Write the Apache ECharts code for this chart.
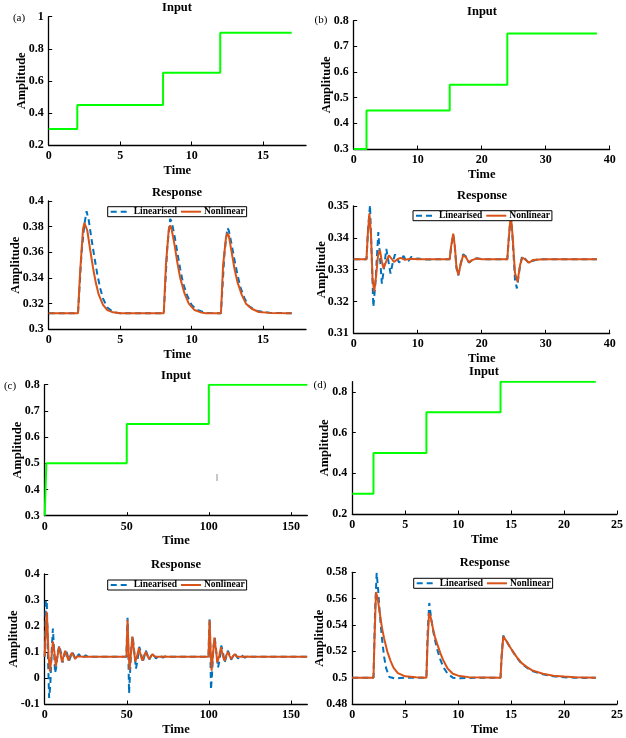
<!DOCTYPE html>
<html><head><meta charset="utf-8">
<script src="https://cdn.jsdelivr.net/npm/echarts@6/dist/echarts.min.js"></script>
<style>html,body{margin:0;padding:0;background:#fff}#c{width:626px;height:738px}</style>
</head><body><div id="c"></div>
<script>
// ---------- DATA ----------
const seriesNames = ['Linearised', 'Nonlinear'];
const panelLetters = ['(a)', '(b)', '(c)', '(d)'];

// step inputs: [time, amplitude] (value holds until next time)
const inputA = [[0,0.3],[2,0.45],[8,0.65],[12,0.9],[17,0.9]];
const inputB = [[0,0.3],[2,0.45],[15,0.55],[24,0.75],[38,0.75]];
const inputC = [[0,0.3],[1,0.5],[50,0.65],[100,0.8],[160,0.8]];
const inputD = [[0,0.3],[2,0.5],[7,0.7],[14,0.85],[23,0.85]];

// responses
const respA_lin = [[0,0.3125],[2.05,0.3125],[2.3,0.36],[2.5,0.382],[2.65,0.392],[2.8,0.385],[3.0,0.37],[3.2,0.356],[3.4,0.343],[3.6,0.332],[3.8,0.324],[4.1,0.317],[4.5,0.3135],[5,0.3125],
  [8.05,0.3125],[8.3,0.365],[8.5,0.386],[8.6,0.384],[8.8,0.373],[9.0,0.36],[9.2,0.347],[9.4,0.336],[9.7,0.326],[10.0,0.319],[10.4,0.315],[11,0.3127],
  [12.05,0.3125],[12.3,0.36],[12.5,0.379],[12.6,0.377],[12.8,0.366],[13.0,0.354],[13.2,0.343],[13.4,0.333],[13.7,0.324],[14.0,0.318],[14.5,0.3145],[15.5,0.3128],[17,0.3125]];
const respA_non = [[0,0.3125],[2.05,0.3125],[2.2,0.345],[2.4,0.378],[2.5,0.383],[2.6,0.382],[2.7,0.377],[2.9,0.362],[3.1,0.348],[3.3,0.336],[3.5,0.327],[3.8,0.319],[4.1,0.315],[4.5,0.3132],[5,0.3125],
  [8.05,0.3125],[8.2,0.35],[8.4,0.378],[8.5,0.381],[8.6,0.378],[8.8,0.366],[9.0,0.352],[9.2,0.34],[9.5,0.328],[9.8,0.32],[10.2,0.315],[10.7,0.313],[11,0.3125],
  [12.05,0.3125],[12.2,0.35],[12.4,0.371],[12.5,0.375],[12.6,0.373],[12.8,0.36],[13.0,0.347],[13.2,0.337],[13.5,0.327],[13.8,0.32],[14.2,0.316],[14.7,0.3135],[15.5,0.3128],[17,0.3125]];

const respB_lin = [[0,0.3333],[2.0,0.3333],[2.25,0.343],[2.55,0.3503],[2.8,0.335],[3.07,0.3183],[3.4,0.326],[3.85,0.3418],[4.1,0.334],[4.4,0.3256],[4.7,0.33],[5.1,0.3365],[5.4,0.333],[5.75,0.3288],[6.1,0.3322],[6.45,0.3348],[6.8,0.3335],[7.1,0.3322],[7.5,0.3335],[7.8,0.3343],[8.2,0.3327],[8.6,0.3328],[9.0,0.334],[9.5,0.3333],[10.0,0.3335],[11,0.3332],
  [15.0,0.3333],[15.2,0.3368],[15.55,0.341],[15.8,0.3372],[16.05,0.3305],[16.35,0.3282],[16.7,0.3318],[17.1,0.3348],[17.5,0.3342],[18.0,0.3322],[18.5,0.333],[19.2,0.3336],[20,0.3333],
  [24.0,0.3333],[24.2,0.339],[24.55,0.3478],[24.85,0.339],[25.2,0.327],[25.5,0.3241],[25.9,0.33],[26.3,0.3342],[26.8,0.3334],[27.4,0.332],[28,0.3328],[29,0.3333],[38,0.3333]];
const respB_non = [[0,0.3333],[2.0,0.3333],[2.2,0.341],[2.45,0.3477],[2.7,0.341],[2.95,0.327],[3.2,0.3231],[3.5,0.328],[3.8,0.3345],[4.1,0.3362],[4.35,0.333],[4.65,0.3304],[5.0,0.3322],[5.5,0.3345],[5.9,0.3335],[6.3,0.3324],[6.8,0.3332],[7.3,0.3337],[8,0.3331],[9,0.3334],[10,0.3333],
  [15.0,0.3333],[15.2,0.337],[15.55,0.3413],[15.8,0.3375],[16.05,0.331],[16.35,0.3283],[16.7,0.3315],[17.1,0.3345],[17.5,0.334],[18.0,0.3323],[18.5,0.333],[19.2,0.3335],[20,0.3333],
  [24.0,0.3333],[24.2,0.339],[24.55,0.3475],[24.85,0.34],[25.2,0.329],[25.6,0.3262],[26.0,0.3315],[26.35,0.3338],[26.8,0.3332],[27.4,0.3322],[28,0.333],[29,0.3332],[30,0.3333],[38,0.3333]];

const respC_lin = [[0,0.082],[0.3,0.082],[0.7,0.3],[1.3,0.29],[1.9,0.1],[2.7,-0.077],[3.4,-0.03],[4.2,0.1],[5.0,0.19],[5.6,0.12],[6.3,0.019],[7.0,0.04],[8.0,0.1],[8.9,0.125],[9.8,0.1],[10.9,0.06],[11.8,0.08],[12.8,0.11],[13.8,0.09],[14.8,0.065],[15.8,0.082],[16.8,0.1],[17.8,0.088],[18.8,0.072],[19.8,0.082],[20.8,0.092],[21.8,0.084],[22.8,0.076],[24,0.082],[25,0.087],[26,0.082],[27,0.079],[28.5,0.082],
  [49.8,0.082],[50.1,0.16],[50.5,0.232],[50.9,0.12],[51.4,-0.059],[52.0,0.02],[52.8,0.12],[53.6,0.162],[54.6,0.1],[55.6,0.036],[56.6,0.07],[57.6,0.12],[58.6,0.1],[59.6,0.06],[60.6,0.08],[61.6,0.105],[62.6,0.09],[63.6,0.07],[64.6,0.082],[65.8,0.095],[66.8,0.085],[67.8,0.075],[68.8,0.082],[69.8,0.088],[71,0.082],[72,0.078],[73.5,0.083],[75,0.082],
  [99.8,0.082],[100.1,0.16],[100.5,0.228],[100.9,0.12],[101.3,-0.045],[102.0,0.02],[102.8,0.12],[103.6,0.155],[104.6,0.1],[105.6,0.04],[106.6,0.07],[107.6,0.125],[108.6,0.1],[109.6,0.06],[110.6,0.08],[111.6,0.105],[112.6,0.09],[113.6,0.07],[114.6,0.082],[115.8,0.095],[116.8,0.085],[117.8,0.075],[118.8,0.082],[119.8,0.088],[121,0.082],[122,0.078],[123.5,0.083],[125,0.082],[160,0.082]];
const respC_non = [[0,0.082],[0.4,0.082],[0.8,0.2],[1.2,0.255],[1.7,0.2],[2.3,0.09],[3.2,0.025],[4.0,0.07],[5.0,0.14],[5.9,0.1],[6.8,0.045],[7.7,0.08],[8.8,0.12],[9.7,0.09],[10.6,0.06],[11.5,0.085],[12.5,0.105],[13.5,0.085],[14.5,0.068],[15.5,0.085],[16.6,0.097],[17.6,0.085],[18.6,0.073],[19.6,0.083],[20.6,0.09],[21.6,0.083],[22.6,0.077],[23.6,0.082],[24.6,0.086],[25.6,0.082],[26.6,0.08],[28,0.082],
  [49.8,0.082],[50.1,0.15],[50.5,0.223],[51.0,0.12],[51.7,0.031],[52.5,0.09],[53.4,0.159],[54.3,0.11],[55.2,0.063],[56.3,0.085],[57.4,0.115],[58.4,0.09],[59.5,0.067],[60.5,0.085],[61.6,0.1],[62.6,0.085],[63.6,0.073],[64.6,0.083],[65.8,0.092],[66.8,0.083],[67.8,0.077],[68.8,0.082],[69.8,0.087],[71,0.082],[72,0.079],[73.5,0.083],[75,0.082],
  [99.8,0.082],[100.1,0.15],[100.5,0.222],[101.0,0.12],[101.7,0.028],[102.5,0.09],[103.4,0.155],[104.3,0.11],[105.2,0.06],[106.3,0.085],[107.4,0.118],[108.4,0.09],[109.5,0.066],[110.5,0.085],[111.6,0.1],[112.6,0.085],[113.6,0.073],[114.6,0.083],[115.8,0.092],[116.8,0.083],[117.8,0.077],[118.8,0.082],[119.8,0.087],[121,0.082],[122,0.079],[123.5,0.083],[125,0.082],[160,0.082]];

const respD_lin = [[0,0.5],[2,0.5],[2.15,0.55],[2.3,0.5795],[2.45,0.566],[2.6,0.548],[2.8,0.53],[3.0,0.516],[3.2,0.507],[3.5,0.5005],[4.0,0.4994],[4.5,0.4997],[5,0.5],
  [7,0.5],[7.12,0.535],[7.27,0.5567],[7.4,0.548],[7.6,0.537],[7.8,0.529],[8.0,0.522],[8.3,0.514],[8.6,0.508],[9.0,0.503],[9.5,0.5],[10.2,0.4995],[11,0.4998],[12,0.5],
  [14,0.5],[14.1,0.516],[14.25,0.532],[14.4,0.5298],[14.7,0.5258],[15.0,0.5218],[15.5,0.5155],[16.0,0.5105],[16.5,0.5075],[17.0,0.505],[18.0,0.5025],[19.0,0.501],[20,0.5003],[21,0.5],[22,0.4998],[23,0.5]];
const respD_non = [[0,0.5],[2,0.5],[2.1,0.53],[2.24,0.565],[2.4,0.56],[2.6,0.549],[2.8,0.538],[3.0,0.53],[3.3,0.52],[3.6,0.513],[3.9,0.5075],[4.3,0.5035],[5,0.501],[6,0.5003],
  [7,0.5],[7.1,0.525],[7.25,0.549],[7.4,0.546],[7.6,0.538],[7.8,0.531],[8.0,0.526],[8.3,0.519],[8.6,0.513],[9.0,0.507],[9.5,0.503],[10,0.5015],[11,0.5004],
  [14,0.5],[14.1,0.515],[14.26,0.5314],[14.4,0.53],[14.7,0.526],[15.0,0.522],[15.5,0.516],[16.0,0.511],[16.5,0.508],[17.0,0.5055],[18.0,0.503],[19.0,0.5015],[20.0,0.5008],[21.0,0.5004],[22.0,0.5002],[23,0.5]];

// axis ranges and tick labels
const xTicksA = [0,5,10,15], xTicksB = [0,10,20,30,40], xTicksC = [0,50,100,150], xTicksD = [0,5,10,15,20,25];
const yTicksAin = [0.2,0.4,0.6,0.8,1];
const yTicksAres = [0.3,0.32,0.34,0.36,0.38,0.4];
const yTicksBin = [0.3,0.4,0.5,0.6,0.7,0.8];
const yTicksBres = [0.31,0.32,0.33,0.34,0.35];
const yTicksCin = [0.3,0.4,0.5,0.6,0.7,0.8];
const yTicksCres = [-0.1,0,0.1,0.2,0.3,0.4];
const yTicksDin = [0.2,0.4,0.6,0.8];
const yTicksDres = [0.48,0.5,0.52,0.54,0.56,0.58];

// ---------- LAYOUT ----------
const FONT = 'Liberation Serif';
const panels = [
  {g:[48.7,16.7,257.3,128.3], xr:[0,18], xt:xTicksA, yr:[0.2,1], yt:yTicksAin, inp:inputA, ng:20, title:'Input', tx:177, ty:8},
  {g:[48.7,201,257.3,128.3], xr:[0,18], xt:xTicksA, yr:[0.3,0.4], yt:yTicksAres, lin:respA_lin, non:respA_non, ng:26, title:'Response', tx:177, ty:193, lg:[107.7,206.7]},
  {g:[353.7,20.7,256,128.3], xr:[0,40], xt:xTicksB, yr:[0.3,0.8], yt:yTicksBin, inp:inputB, ng:20, title:'Input', tx:482, ty:12},
  {g:[353.7,206,256,127.3], xr:[0,40], xt:xTicksB, yr:[0.31,0.35], yt:yTicksBres, lin:respB_lin, non:respB_non, ng:25, title:'Response', tx:482, ty:196, lg:[413,210.7]},
  {g:[44.7,384.7,262.6,131], xr:[0,160], xt:xTicksC, yr:[0.3,0.8], yt:yTicksCin, inp:inputC, ng:20.5, title:'Input', tx:176, ty:376},
  {g:[44.7,574,262.6,130], xr:[0,160], xt:xTicksC, yr:[-0.1,0.4], yt:yTicksCres, lin:respC_lin, non:respC_non, ng:24.5, title:'Response', tx:176, ty:565, lg:[107.7,580]},
  {g:[352.3,381.7,264.7,132.3], xr:[0,25], xt:xTicksD, yr:[0.2,0.85], yt:yTicksDin, inp:inputD, ng:21, title:'Input', tx:484, ty:372},
  {g:[352.3,572.3,264.7,131.7], xr:[0,25], xt:xTicksD, yr:[0.48,0.58], yt:yTicksDres, lin:respD_lin, non:respD_non, ng:26.5, title:'Response', tx:484.7, ty:563, lg:[413.7,578.3]}
];
const letterPos = [[19,18],[321,20],[10,386],[320,385]];

const grid = [], xAxis = [], yAxis = [], series = [], legend = [], graphic = [];
const axisCommon = {
  axisLine:{show:true, onZero:false, lineStyle:{color:'#000', width:1.3}},
  splitLine:{show:false},
  nameMoveOverlap:false
};
panels.forEach((p, i) => {
  grid.push({left:p.g[0], top:p.g[1], width:p.g[2], height:p.g[3], outerBoundsMode:'none', containLabel:false});
  xAxis.push(Object.assign({}, axisCommon, {
    type:'value', gridIndex:i, min:p.xr[0], max:p.xr[1],
    name:'Time', nameLocation:'middle', nameGap:19,
    nameTextStyle:{fontFamily:FONT, fontWeight:'bold', fontSize:12.5, color:'#000'},
    axisTick:{show:true, inside:true, length:3.5, lineStyle:{color:'#000', width:1}, customValues:p.xt},
    axisLabel:{fontFamily:FONT, fontWeight:'bold', fontSize:12, color:'#000', margin:5, customValues:p.xt}
  }));
  yAxis.push(Object.assign({}, axisCommon, {
    type:'value', gridIndex:i, min:p.yr[0], max:p.yr[1],
    name:'Amplitude', nameLocation:'middle', nameGap:p.ng,
    nameTextStyle:{fontFamily:FONT, fontWeight:'bold', fontSize:12.5, color:'#000'},
    axisTick:{show:true, inside:true, length:3.5, lineStyle:{color:'#000', width:1}, customValues:p.yt},
    axisLabel:{fontFamily:FONT, fontWeight:'bold', fontSize:12, color:'#000', margin:5, customValues:p.yt}
  }));
  if (p.inp) {
    series.push({type:'line', xAxisIndex:i, yAxisIndex:i, data:p.inp, step:'end', symbol:'none',
      lineStyle:{color:'#00ff00', width:2}, silent:true, animation:false});
  } else {
    series.push({type:'line', name:seriesNames[0], xAxisIndex:i, yAxisIndex:i, data:p.lin, symbol:'none',
      itemStyle:{color:'#0072BD'}, lineStyle:{color:'#0072BD', width:2, type:[6,4]}, animation:false});
    series.push({type:'line', name:seriesNames[1], xAxisIndex:i, yAxisIndex:i, data:p.non, symbol:'none',
      itemStyle:{color:'#D95319'}, lineStyle:{color:'#D95319', width:2}, animation:false});
    legend.push({data:seriesNames, left:p.lg[0], top:p.lg[1], orient:'horizontal',
      backgroundColor:'#fff', borderColor:'#000', borderWidth:1, padding:[0,2], itemGap:3,
      itemWidth:20, itemHeight:8, selectedMode:false,
      itemStyle:{color:'rgba(0,0,0,0)', borderWidth:0, opacity:0},
      lineStyle:{width:2},
      textStyle:{fontFamily:FONT, fontWeight:'bold', fontSize:9.5, color:'#000', padding:[0,0,0,-2]}});
  }
  graphic.push({type:'text', x:p.tx, y:p.ty, silent:true,
    style:{text:p.title, fontFamily:FONT, fontWeight:'bold', fontSize:12.5, fill:'#000', textAlign:'center', textVerticalAlign:'middle'}});
});
panelLetters.forEach((t, i) => {
  graphic.push({type:'text', x:letterPos[i][0], y:letterPos[i][1], silent:true,
    style:{text:t, fontFamily:FONT, fontSize:11, fill:'#000', textAlign:'center', textVerticalAlign:'middle'}});
});
graphic.push({type:'text', x:217, y:478, silent:true,
  style:{text:'\u2016', fontFamily:FONT, fontSize:11, fill:'#999', textAlign:'center', textVerticalAlign:'middle'}});

const chart = echarts.init(document.getElementById('c'), null, {renderer:'canvas'});
chart.setOption({backgroundColor:'#fff', animation:false, grid, xAxis, yAxis, series, legend, graphic});
</script></body></html>
